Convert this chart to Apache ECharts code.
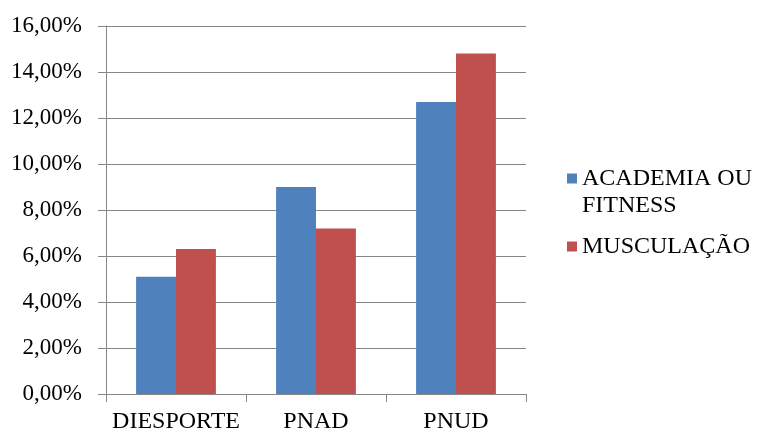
<!DOCTYPE html>
<html>
<head>
<meta charset="utf-8">
<script src="https://cdn.jsdelivr.net/npm/echarts@6/dist/echarts.min.js"></script>
<style>
html,body{margin:0;padding:0;background:#fff;}
#chart{width:757px;height:434px;}
</style>
</head>
<body>
<div id="chart"></div>
<script>
const categories = ['DIESPORTE', 'PNAD', 'PNUD'];
const academiaValues = [5.1, 9.0, 12.7];
const musculacaoValues = [6.3, 7.2, 14.8];
const seriesNames = ['ACADEMIA OU FITNESS', 'MUSCULAÇÃO'];
const yTicks = { min: 0, max: 16, interval: 2 };

const FONT = '"Liberation Serif", "Times New Roman", serif';
const chart = echarts.init(document.getElementById('chart'), null, { renderer: 'canvas' });
const grey = '#868686';
// square at the top of a taller (invisible) box so it aligns with the first text line
const topSquare = 'path://M0,0L10,0L10,10L0,10Z M0,37L0.001,37L0.001,37.001Z';

chart.setOption({
  animation: false,
  backgroundColor: '#fff',
  grid: { left: 106, right: 231, top: 26, bottom: 39, containLabel: false },
  legend: [
    {
      data: [seriesNames[0]],
      orient: 'vertical',
      left: 567, top: 165, padding: 0,
      itemWidth: 10, itemHeight: 37, itemGap: 0,
      icon: topSquare,
      formatter: () => 'ACADEMIA OU\nFITNESS',
      textStyle: { fontFamily: FONT, fontSize: 24, color: '#000', lineHeight: 27 }
    },
    {
      data: [seriesNames[1]],
      orient: 'vertical',
      left: 567, top: 233, padding: 0,
      itemWidth: 10, itemHeight: 10,
      icon: 'rect',
      textStyle: { fontFamily: FONT, fontSize: 24, color: '#000', lineHeight: 27 }
    }
  ],
  xAxis: {
    type: 'category',
    data: categories,
    axisLine: { show: true, lineStyle: { color: grey, width: 1 } },
    axisTick: { show: true, length: 8, lineStyle: { color: grey } },
    axisLabel: { fontFamily: FONT, fontSize: 24, color: '#000', margin: 16, interval: 0 },
    splitLine: { show: false }
  },
  yAxis: {
    type: 'value',
    min: yTicks.min, max: yTicks.max, interval: yTicks.interval,
    axisLine: { show: true, lineStyle: { color: grey, width: 1 } },
    axisTick: { show: true, length: 8, lineStyle: { color: grey } },
    axisLabel: {
      fontFamily: FONT, fontSize: 23, color: '#000', margin: 24,
      formatter: v => v.toFixed(2).replace('.', ',') + '%'
    },
    splitLine: { show: true, lineStyle: { color: grey, width: 1 } }
  },
  series: [
    {
      name: seriesNames[0], type: 'bar', data: academiaValues,
      itemStyle: { color: '#4F81BD' }, barGap: '0%', barCategoryGap: '43%'
    },
    {
      name: seriesNames[1], type: 'bar', data: musculacaoValues,
      itemStyle: { color: '#C0504D' }, barGap: '0%', barCategoryGap: '43%'
    }
  ]
});
</script>
</body>
</html>
